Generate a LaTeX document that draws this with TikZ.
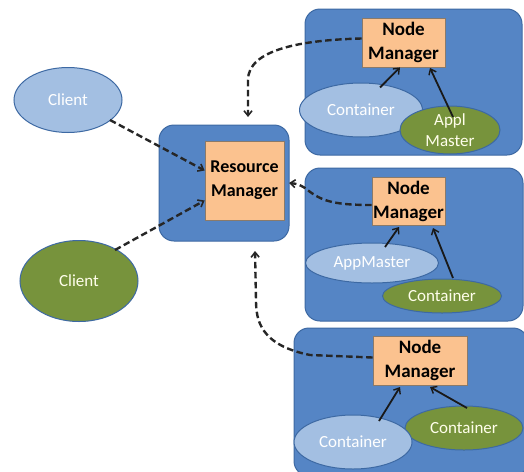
\documentclass[tikz,border=0pt]{standalone}
\usepackage{fontspec}
\setmainfont{Carlito}
\usetikzlibrary{shapes.geometric,arrows.meta}
\definecolor{boxblue}{HTML}{5585C5}
\definecolor{boxedge}{HTML}{3D69A3}
\definecolor{nmfill}{HTML}{FBC28F}
\definecolor{nmedge}{HTML}{8A7A6A}
\definecolor{lightell}{HTML}{A3BFE2}
\definecolor{greenell}{HTML}{77933C}
\tikzset{
  bigbox/.style={draw=boxedge, fill=boxblue, line width=1pt, rounded corners=15pt},
  mgr/.style={draw=nmedge, fill=nmfill, line width=0.8pt, inner sep=0pt, align=center,
    font=\fontsize{19}{24}\selectfont\bfseries, text=black},
  lell/.style={ellipse, draw=boxedge, fill=lightell, line width=1pt, inner sep=0pt,
    text=white, font=\fontsize{17}{21}\selectfont, align=center},
  gell/.style={ellipse, draw=boxedge, fill=greenell, line width=1pt, inner sep=0pt,
    text=white!92!yellow, font=\fontsize{17}{21}\selectfont, align=center},
  dasharrow/.style={line width=2.4pt, dash pattern=on 6.5pt off 3.5pt,
    -{Straight Barb[length=5pt,width=8pt,line width=1.6pt]}, black!85},
  solidarrow/.style={line width=1.8pt, -{Straight Barb[length=5pt,width=8pt,line width=1.4pt]}, black!90}
}
\begin{document}
\begin{tikzpicture}[x=1pt,y=-1pt]
\useasboundingbox (0,0) rectangle (524,471);
\fill[white] (0,0) rectangle (524,471);
% big boxes
\draw[bigbox] (305,9) rectangle (522,155);
\draw[bigbox] (305,168) rectangle (523,321);
\draw[bigbox] (294,328) rectangle (528,476);
\draw[bigbox] (159,125) rectangle (289,241);
% node managers
\node[mgr, minimum width=83pt, minimum height=49pt] (nm1) at (403.5,42.5) {Node\\Manager};
\node[mgr, minimum width=73pt, minimum height=48pt] (nm2) at (408.5,201) {Node\\Manager};
\node[mgr, minimum width=94pt, minimum height=49pt] (nm3) at (420,360.5) {Node\\Manager};
\node[mgr, minimum width=79pt, minimum height=79pt, font=\fontsize{18}{24}\selectfont\bfseries] (rm) at (244.5,180.5) {Resource\\Manager};
% clients
\node[lell, minimum width=108pt, minimum height=65pt] (c1) at (68,100) {Client};
\node[gell, minimum width=118pt, minimum height=81pt] (c2) at (79,281) {Client};
% top box
\node[lell, minimum width=123pt, minimum height=54pt] (cont1) at (361,110) {Container};
\node[gell, minimum width=100pt, minimum height=48pt] (am1) at (450,130) {Appl\\Master};
% middle box
\node[gell, minimum width=119pt, minimum height=34pt] (cont2) at (442,296) {Container};
\node[lell, minimum width=133pt, minimum height=40pt] (am2) at (372,263) {AppMaster};
% bottom box
\node[gell, minimum width=118pt, minimum height=44pt] (cont3b) at (464,428) {Container};
\node[lell, minimum width=118pt, minimum height=54pt] (cont3) at (353,442) {Container};
% solid arrows
\draw[solidarrow] (cont1.north) ++(19,5) coordinate (s1) -- (nm1.south -| 400,0);
\draw[solidarrow] (453,117) coordinate (s2) -- (430,68);
\draw[solidarrow] (385,247) coordinate (s3) -- (399,227);
\draw[solidarrow] (453,278) coordinate (s4) -- (433,228);
\draw[solidarrow] (379,421) coordinate (s5) -- (400,387);
\draw[solidarrow] (467,408) coordinate (s6) -- (430,387);
% dashed arrows
\draw[dasharrow] (c1) ++(42,20) coordinate (d1) -- ([yshift=10pt]rm.west);
\draw[dasharrow] (c2) ++(36,-31) coordinate (d2) -- ([yshift=-20pt]rm.west);
\draw[dasharrow] ([yshift=4pt]nm1.west) .. controls (300,40) and (248,50) .. (248,80) -- (248,117);
\draw[dasharrow] ([yshift=-4pt]nm2.west) .. controls (330,205) and (320,200) .. (305,188) .. controls (298,184) .. (289,183);
\draw[dasharrow] ([yshift=3pt]nm3.west) -- (310,355) .. controls (260,345) and (256,320) .. (256,300) -- (255,251);
\end{tikzpicture}
\end{document}
